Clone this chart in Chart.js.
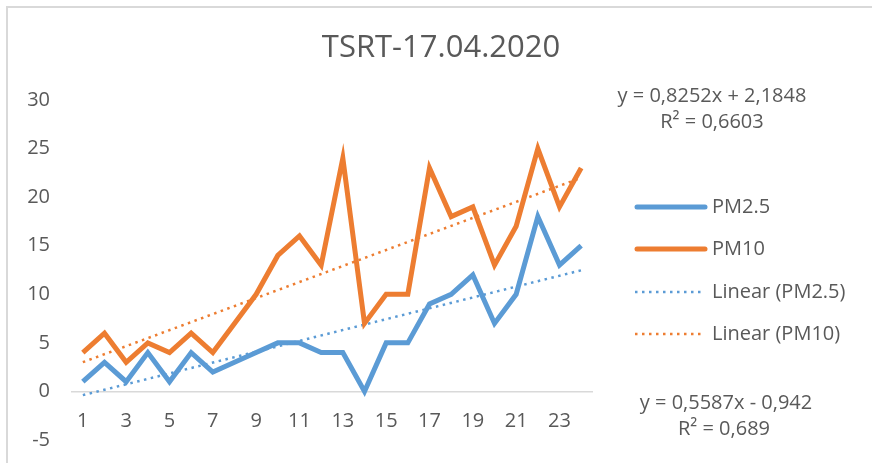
<!DOCTYPE html>
<html>
<head>
<meta charset="utf-8">
<script src="https://cdn.jsdelivr.net/npm/chart.js@4.4.0/dist/chart.umd.min.js"></script>
<style>
  html, body { margin: 0; padding: 0; background: #fff; }
</style>
</head>
<body>
<canvas id="grafico" width="872" height="463"></canvas>
<script>
// horas del día (eje x) y concentraciones
const horas = [1, 2, 3, 4, 5, 6, 7, 8, 9, 10, 11, 12, 13, 14, 15, 16, 17, 18, 19, 20, 21, 22, 23, 24];
const pm25 = [1, 3, 1, 4, 1, 4, 2, 3, 4, 5, 5, 4, 4, 0, 5, 5, 9, 10, 12, 7, 10, 18, 13, 15];
const pm10 = [4, 6, 3, 5, 4, 6, 4, 7, 10, 14, 16, 13, 24, 7, 10, 10, 23, 18, 19, 13, 17, 25, 19, 23];

// líneas de tendencia (PM2.5, PM10)
const pendientes = [0.5587, 0.8252];
const cortes = [-0.942, 2.1848];
const ecuaciones = [['y = 0,5587x - 0,942', 'R² = 0,689'], ['y = 0,8252x + 2,1848', 'R² = 0,6603']];

const titulo = 'TSRT-17.04.2020';
const etiquetasX = [1, 3, 5, 7, 9, 11, 13, 15, 17, 19, 21, 23];

const AZUL = '#5B9BD5';
const NARANJA = '#ED7D31';
const GRIS = '#595959';
const FUENTE = '"Open Sans", sans-serif';

const puntos = serie => horas.map((h, i) => ({ x: h, y: serie[i] }));
const tendencia = k => [horas[0], horas[horas.length - 1]].map(h => ({ x: h, y: pendientes[k] * h + cortes[k] }));

// === Leyenda, título y ecuaciones dibujados a mano ===
const extras = {
  id: 'extras',
  afterDraw(chart) {
    const ctx = chart.ctx;
    ctx.save();

    // marco
    ctx.strokeStyle = '#d9d9d9';
    ctx.lineWidth = 2;
    ctx.beginPath();
    ctx.moveTo(7, 463);
    ctx.lineTo(7, 7);
    ctx.lineTo(872, 7);
    ctx.stroke();

    ctx.fillStyle = GRIS;
    ctx.textAlign = 'center';
    ctx.textBaseline = 'middle';
    ctx.font = '31px ' + FUENTE;
    ctx.fillText(titulo, 441, 48);

    // leyenda
    const filas = [207, 249, 292, 334];
    chart.data.datasets.forEach((ds, i) => {
      const y = filas[i];
      ctx.strokeStyle = ds.borderColor;
      ctx.lineWidth = ds.borderWidth;
      ctx.lineCap = ds.borderDash ? 'butt' : 'round';
      ctx.setLineDash(ds.borderDash || []);
      ctx.beginPath();
      ctx.moveTo(ds.borderDash ? 635 : 637, y);
      ctx.lineTo(ds.borderDash ? 701 : 705, y);
      ctx.stroke();
      ctx.setLineDash([]);
      ctx.fillStyle = GRIS;
      ctx.textAlign = 'left';
      ctx.font = '20px ' + FUENTE;
      ctx.fillText(ds.label, 712, y);
    });

    // ecuaciones
    ctx.textAlign = 'center';
    ctx.font = '20px ' + FUENTE;
    ctx.fillText(ecuaciones[1][0], 712, 96);
    ctx.fillText(ecuaciones[1][1], 712, 122);
    ctx.fillText(ecuaciones[0][0], 726, 403);
    ctx.fillText(ecuaciones[0][1], 724, 429);
    ctx.restore();
  }
};

new Chart(document.getElementById('grafico'), {
  type: 'line',
  data: {
    datasets: [
      { label: 'PM2.5', data: puntos(pm25), borderColor: AZUL, borderWidth: 5, pointRadius: 0, tension: 0 },
      { label: 'PM10', data: puntos(pm10), borderColor: NARANJA, borderWidth: 5, pointRadius: 0, tension: 0 },
      { label: 'Linear (PM2.5)', data: tendencia(0), borderColor: AZUL, borderWidth: 2.5, borderDash: [2.5, 4.5], pointRadius: 0 },
      { label: 'Linear (PM10)', data: tendencia(1), borderColor: NARANJA, borderWidth: 2.5, borderDash: [2.5, 4.5], pointRadius: 0 }
    ]
  },
  options: {
    responsive: false,
    animation: false,
    layout: { padding: { top: 100, bottom: 23, left: 0, right: 280 } },
    plugins: {
      legend: { display: false },
      title: { display: false },
      tooltip: { enabled: false }
    },
    scales: {
      x: {
        type: 'linear',
        min: 0.5,
        max: 24.5,
        position: { y: 0 },
        grid: { display: false, drawTicks: false },
        border: { color: '#d9d9d9', width: 1.5 },
        afterBuildTicks: s => { s.ticks = etiquetasX.map(v => ({ value: v })); },
        afterFit: s => { s.height = 0; },
        ticks: { color: GRIS, font: { family: FUENTE, size: 20 }, padding: 18, maxRotation: 0, autoSkip: false }
      },
      y: {
        min: -5,
        max: 30,
        grid: { display: false, drawTicks: false },
        border: { display: false },
        afterFit: s => { s.width = 72; s.paddingTop = 0; s.paddingBottom = 0; },
        ticks: { stepSize: 5, color: GRIS, font: { family: FUENTE, size: 20 }, padding: 22 }
      }
    }
  },
  plugins: [extras]
});
</script>
</body>
</html>
